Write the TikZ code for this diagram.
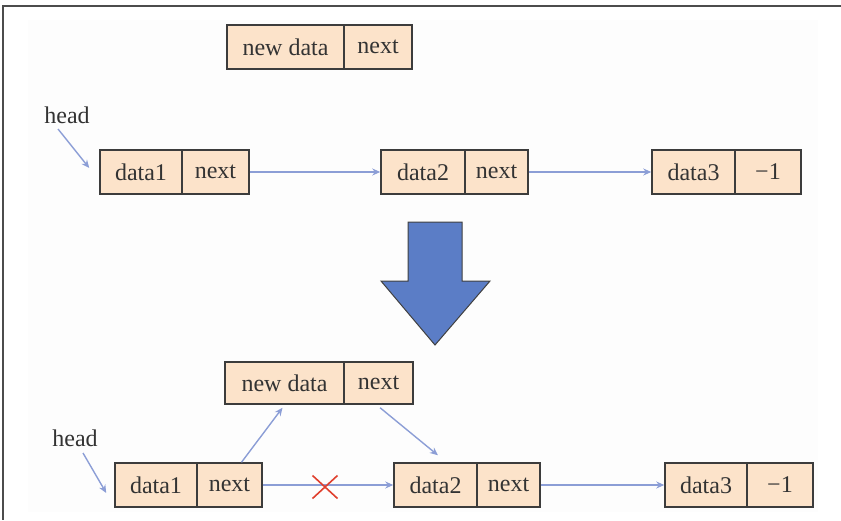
\documentclass[tikz,border=0pt]{standalone}
\usepackage{fontspec}
\setmainfont{Liberation Serif}
\usetikzlibrary{arrows.meta}
\definecolor{cellfill}{HTML}{FCE3CA}
\definecolor{cellline}{HTML}{3C3C3C}
\definecolor{linkcol}{HTML}{8C9ED6}
\definecolor{bigarrow}{HTML}{5B7DC6}
\definecolor{txt}{HTML}{333333}
\definecolor{crosscol}{HTML}{E0402E}
\begin{document}
\begin{tikzpicture}[x=0.5pt,y=-0.5pt,
  cell/.style={draw=cellline,line width=0.75pt,fill=cellfill,inner sep=0pt,
    minimum height=22pt,text=txt,font=\fontsize{12}{14}\selectfont},
  lbl/.style={inner sep=0pt,text=txt,font=\fontsize{12}{14}\selectfont},
  link/.style={draw=linkcol,line width=0.7pt,-{Stealth[length=4pt,width=3.5pt]}},
  frameline/.style={draw=black!70,line width=0.8pt}]
\useasboundingbox (0,0) rectangle (841,520);
\fill[black!0.7] (28,20) rectangle (818,512);
\draw[frameline] (841,6) -- (3,6) -- (3,520);
% ---- top: before
\node[cell,minimum width=58.5pt] (ndA) at (285.5,47) {new data};
\node[cell,minimum width=34pt] (nxA) at (378,47) {next};
\node[lbl] (headA) at (67,115) {head};
\coordinate (hsA) at (58,129);
\node[cell,minimum width=41pt] (d1A) at (141,172) {data1};
\node[cell,minimum width=33.5pt] (n1A) at (215.5,172) {next};
\node[cell,minimum width=42pt] (d2A) at (423,172) {data2};
\node[cell,minimum width=31.5pt] (n2A) at (496.5,172) {next};
\node[cell,minimum width=41.5pt] (d3A) at (693.5,172) {data3};
\node[cell,minimum width=33pt] (n3A) at (768,172) {−1};
\draw[link] (hsA) -- ([xshift=-5pt,yshift=2pt]d1A.west);
\draw[link] (n1A.east) -- (d2A.west);
\draw[link] (n2A.east) -- (d3A.west);
% ---- big arrow
\draw[fill=bigarrow,draw=black!75,line width=0.5pt]
  (408,222) -- (462,222) -- (462,281) -- (490,281) -- (435,345)
  -- (381,281) -- (408,281) -- cycle;
% ---- bottom: after
\node[cell,minimum width=59.5pt,minimum height=21pt] (ndB) at (284.5,383) {new data};
\node[cell,minimum width=34.5pt,minimum height=21pt] (nxB) at (378.5,383) {next};
\node[lbl] (headB) at (75,438) {head};
\coordinate (hsB) at (83,453);
\node[cell,minimum width=41pt] (d1B) at (156,485) {data1};
\node[cell,minimum width=32.5pt] (n1B) at (229.5,485) {next};
\node[cell,minimum width=41.5pt] (d2B) at (435.5,485) {data2};
\node[cell,minimum width=31.5pt] (n2B) at (508.5,485) {next};
\node[cell,minimum width=41pt] (d3B) at (706,485) {data3};
\node[cell,minimum width=33pt] (n3B) at (780,485) {−1};
\draw[link] (hsB) -- ([xshift=-4pt,yshift=-4pt]d1B.west);
\draw[link] ([xshift=6pt]n1B.north) -- ([xshift=-1pt,yshift=-1.5pt]ndB.south);
\draw[link] ([xshift=0.8pt,yshift=-1.5pt]nxB.south) -- ([xshift=1.2pt,yshift=3.5pt]d2B.north);
\draw[link] (n1B.east) -- (d2B.west);
\draw[link] (n2B.east) -- (d3B.west);
\coordinate (xc) at (325,487);
\draw[crosscol,line width=0.8pt] ([shift={(-12.5,-11.5)}]xc) -- ([shift={(12.5,11.5)}]xc)
  ([shift={(-12.5,11.5)}]xc) -- ([shift={(12.5,-11.5)}]xc);
\end{tikzpicture}
\end{document}
